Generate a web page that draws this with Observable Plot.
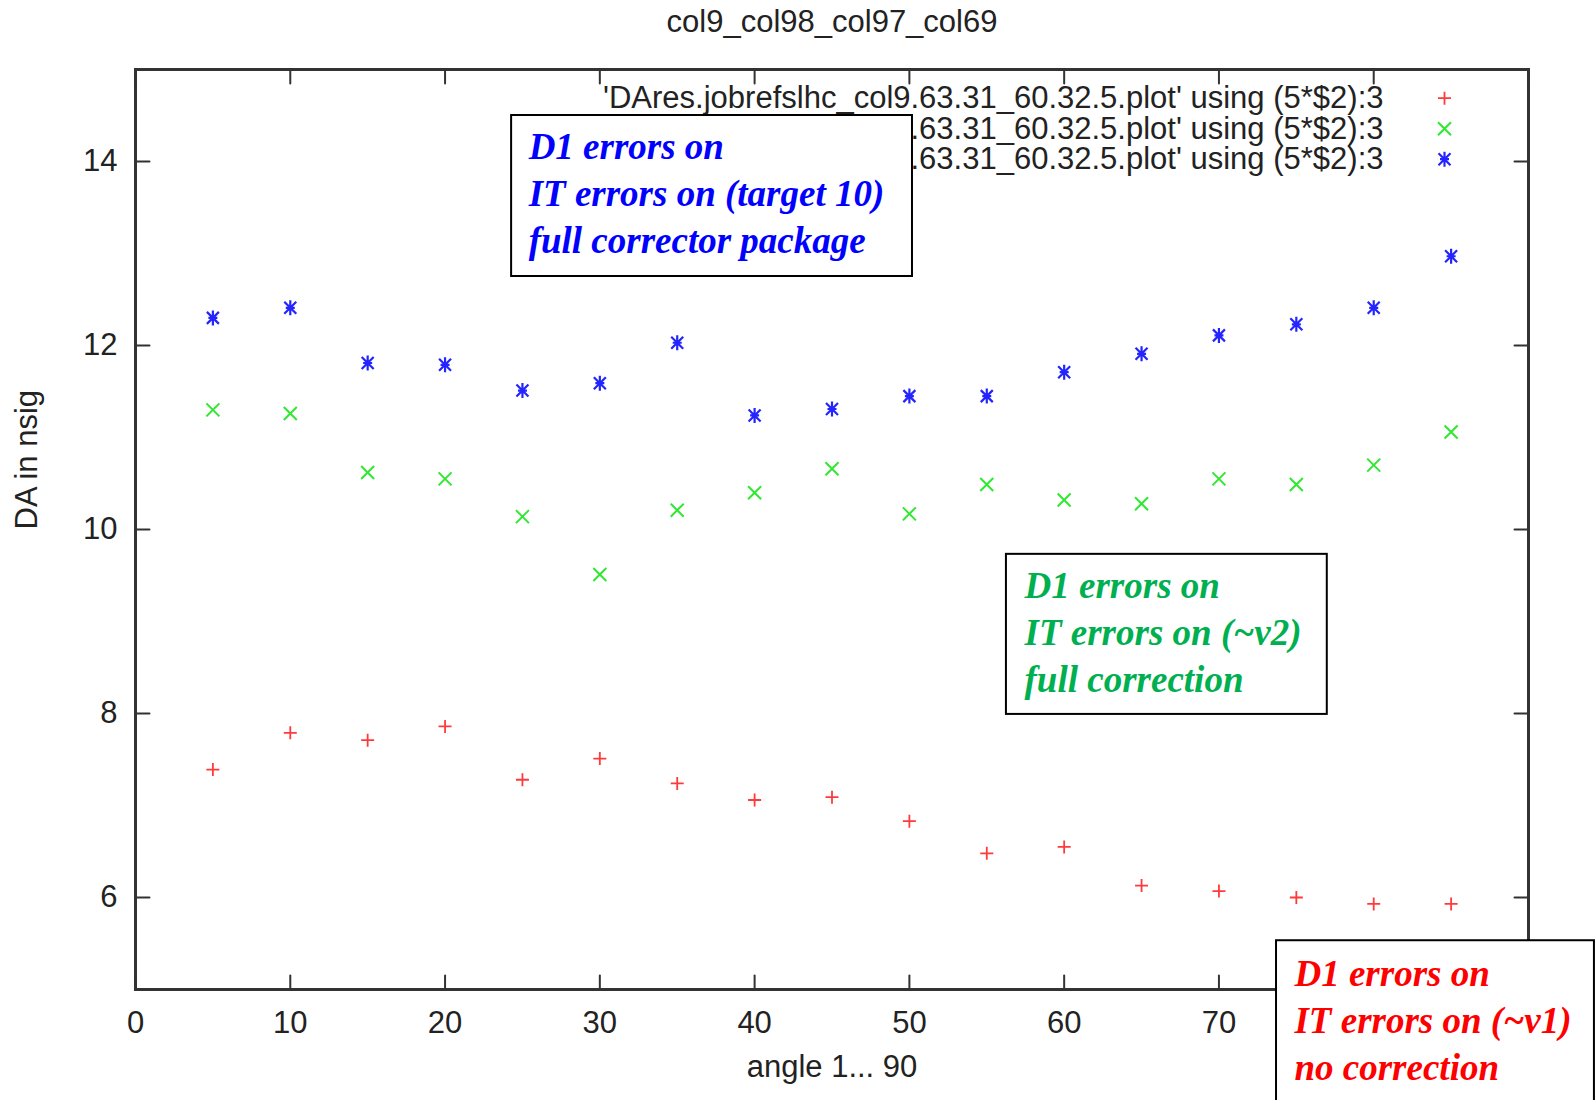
<!DOCTYPE html>
<html>
<head>
<meta charset="utf-8">
<script src="https://cdn.jsdelivr.net/npm/d3@7"></script>
<script src="https://cdn.jsdelivr.net/npm/@observablehq/plot@0.6"></script>
<style>
  html, body { margin: 0; padding: 0; background: #fff; }
  #chart { width: 1596px; height: 1100px; overflow: hidden; }
</style>
</head>
<body>
<div id="chart"></div>
<script>
// ---- data ----
const angles = [5, 10, 15, 20, 25, 30, 35, 40, 45, 50, 55, 60, 65, 70, 75, 80, 85];
const redValues   = [7.39, 7.79, 7.71, 7.86, 7.28, 7.51, 7.24, 7.06, 7.09, 6.83, 6.48, 6.55, 6.13, 6.07, 6.00, 5.93, 5.93];
const greenValues = [11.30, 11.26, 10.62, 10.55, 10.14, 9.51, 10.21, 10.40, 10.66, 10.17, 10.49, 10.32, 10.28, 10.55, 10.49, 10.70, 11.06];
const blueValues  = [12.30, 12.41, 11.81, 11.79, 11.51, 11.59, 12.03, 11.24, 11.31, 11.45, 11.45, 11.71, 11.91, 12.11, 12.23, 12.41, 12.97];
const xTicks = [0, 10, 20, 30, 40, 50, 60, 70, 80, 90];
const yTicks = [6, 8, 10, 12, 14];
const legendLabels = [
  "'DAres.jobrefslhc_col9.63.31_60.32.5.plot' using (5*$2):3",
  "'DAres.jobrefslhc_col98.63.31_60.32.5.plot' using (5*$2):3",
  "'DAres.jobrefslhc_col97.63.31_60.32.5.plot' using (5*$2):3"
];
const titleText = "col9_col98_col97_col69";
const xLabel = "angle 1... 90";
const yLabel = "DA in nsig";
const noteTexts = [
  "D1 errors on\nIT errors on (target 10)\nfull corrector package",
  "D1 errors on\nIT errors on (~v2)\nfull correction",
  "D1 errors on\nIT errors on (~v1)\nno correction"
];

// ---- symbols (gnuplot point types 1, 2, 3) ----
const symPlus = {draw(c, s) { const r = Math.sqrt(s / Math.PI); c.moveTo(-r, 0); c.lineTo(r, 0); c.moveTo(0, -r); c.lineTo(0, r); }};
const symTimes = {draw(c, s) { const r = Math.sqrt(s / Math.PI); c.moveTo(-r, -r); c.lineTo(r, r); c.moveTo(-r, r); c.lineTo(r, -r); }};
const symStar = {draw(c, s) { const r = Math.sqrt(s / Math.PI); const h = r * 0.8;
  c.moveTo(-h, -h); c.lineTo(h, h); c.moveTo(-h, h); c.lineTo(h, -h); c.moveTo(0, -r); c.lineTo(0, r); c.moveTo(-r * 0.6, 0); c.lineTo(r * 0.6, 0); }};
const tickShape = {draw(c, l) { c.moveTo(0, 0); c.lineTo(0, -l); }};

// ---- styles ----
const seriesStyle = [
  {symbol: symPlus,  r: 6.5, color: "#ff3a3a", width: 1.8},
  {symbol: symTimes, r: 6.5, color: "#2fe82f", width: 2},
  {symbol: symStar,  r: 7.5, color: "#2424ff", width: 2.2}
];
const seriesValues = [redValues, greenValues, blueValues];
const points = seriesValues.flatMap((vals, s) => angles.map((a, i) => ({angle: a, value: vals[i], s})));

const noteStyle = [
  {color: "#0000ff", box: {x1: 24.3, x2: 50.2, y1: 12.75, y2: 14.5}, at: {x: 25.4, y: 14.39}},
  {color: "#00b050", box: {x1: 56.27, x2: 77.0, y1: 7.99, y2: 9.73}, at: {x: 57.44, y: 9.62}},
  {color: "#ff0000", box: {x1: 73.72, x2: 94.26, y1: 3.6, y2: 5.53}, at: {x: 74.88, y: 5.40}}
];

const sans = '"Liberation Sans", Arial, Helvetica, sans-serif';
const serif = '"Liberation Serif", "Times New Roman", serif';
const axisColor = "#333";
const fs = 31;

const marks = [
  Plot.frame({stroke: axisColor, strokeWidth: 3}),
  // inward ticks on all four sides
  Plot.vector(xTicks, {x: d => d, y: 5, length: 14, rotate: 0, anchor: "start", shape: tickShape, stroke: axisColor, strokeWidth: 2}),
  Plot.vector(xTicks, {x: d => d, y: 15, length: 14, rotate: 180, anchor: "start", shape: tickShape, stroke: axisColor, strokeWidth: 2}),
  Plot.vector(yTicks, {x: 0, y: d => d, length: 14, rotate: 90, anchor: "start", shape: tickShape, stroke: axisColor, strokeWidth: 2}),
  Plot.vector(yTicks, {x: 90, y: d => d, length: 14, rotate: -90, anchor: "start", shape: tickShape, stroke: axisColor, strokeWidth: 2}),
  Plot.axisX({ticks: xTicks, tickSize: 0, tickPadding: 21, fontSize: fs, label: null, tickFormat: d => String(d), fill: "#222"}),
  Plot.axisY({ticks: yTicks, tickSize: 0, tickPadding: 18, fontSize: fs, label: null, tickFormat: d => String(d), fill: "#222"}),
  Plot.text([titleText], {text: d => d, frameAnchor: "top", lineAnchor: "middle", dy: -47.5, fontSize: fs, fill: "#222"}),
  Plot.text([xLabel], {text: d => d, frameAnchor: "bottom", lineAnchor: "middle", dy: 78, fontSize: fs, fill: "#222"}),
  Plot.text([yLabel], {text: d => d, frameAnchor: "left", lineAnchor: "middle", dx: -108, rotate: -90, fontSize: fs, fill: "#222"}),
  // data points
  ...seriesStyle.map((st, s) => Plot.dot(points.filter(d => d.s === s), {
    x: "angle", y: "value", symbol: st.symbol, r: st.r, stroke: st.color, strokeWidth: st.width, fill: "none"
  })),
  // legend
  ...legendLabels.map((lab, i) => Plot.text([lab], {text: d => d, frameAnchor: "top-right", lineAnchor: "middle", dx: -145, dy: 28.7 + i * 30.5, textAnchor: "end", fontSize: fs, fill: "#222"})),
  ...seriesStyle.map((st, i) => Plot.dot([i], {frameAnchor: "top-right", dx: -84, dy: 28.7 + i * 30.5, symbol: st.symbol, r: st.r, stroke: st.color, strokeWidth: st.width, fill: "none"})),
  // annotation boxes
  ...noteStyle.map(n => Plot.rect([n.box], {x1: "x1", x2: "x2", y1: "y1", y2: "y2", fill: "#fff", stroke: "#000", strokeWidth: 2})),
  ...noteStyle.map((n, i) => Plot.text([noteTexts[i]], {text: d => d, x: n.at.x, y: n.at.y, textAnchor: "start", lineAnchor: "top",
    fontFamily: serif, fontStyle: "italic", fontWeight: "bold", fontSize: 37, lineHeight: 1.27, fill: n.color}))
];

const chart = Plot.plot({
  width: 1596,
  height: 1100,
  marginLeft: 135,
  marginRight: 68,
  marginTop: 69,
  marginBottom: 111,
  style: {fontFamily: sans, color: "#222", background: "#fff", overflow: "hidden"},
  x: {domain: [0, 90]},
  y: {domain: [5, 15]},
  marks
});
document.getElementById("chart").appendChild(chart);
</script>
</body>
</html>
